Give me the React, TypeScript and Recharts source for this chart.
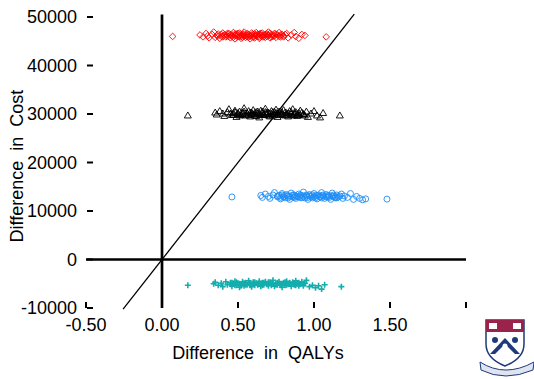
import { ScatterChart, Scatter, XAxis, YAxis, ReferenceLine, Label } from "recharts";

// incremental cost vs incremental QALY, one cloud per strategy
const redPts: [number, number][] = [
  [0.07, 46000], [0.25, 46300], [0.27, 45900], [0.29, 46600], [0.3, 46100], [0.31, 45700], [0.33, 46400],
  [0.34, 46900], [0.35, 45800], [0.36, 46200], [0.37, 46500], [0.38, 45600], [0.39, 46000], [0.4, 46700],
  [0.41, 46300], [0.42, 45900], [0.43, 46100], [0.44, 46600], [0.45, 45700], [0.45, 46400], [0.46, 46000],
  [0.47, 46800], [0.48, 46200], [0.48, 45500], [0.49, 46500], [0.5, 45900], [0.5, 46300], [0.51, 46700],
  [0.52, 46000], [0.52, 45600], [0.53, 46400], [0.54, 46100], [0.54, 46900], [0.55, 45800], [0.56, 46300],
  [0.56, 46600], [0.57, 45900], [0.58, 46200], [0.58, 45500], [0.59, 46700], [0.6, 46000], [0.6, 46400],
  [0.61, 45700], [0.62, 46300], [0.62, 46800], [0.63, 46000], [0.64, 46500], [0.64, 45600], [0.65, 46200],
  [0.66, 45900], [0.66, 46700], [0.67, 46300], [0.68, 45800], [0.69, 46500], [0.7, 46100], [0.7, 46900],
  [0.71, 45700], [0.72, 46400], [0.73, 46000], [0.74, 46600], [0.75, 45800], [0.76, 46300], [0.77, 46800],
  [0.78, 45900], [0.79, 46400], [0.8, 46100], [0.82, 46600], [0.83, 45700], [0.85, 46300], [0.87, 46800],
  [0.88, 46000], [0.9, 45600], [0.92, 46400], [0.94, 46200], [1.08, 45900],
];
const redCore: [number, number][] = [
  [0.37, 46100], [0.39, 46400], [0.4, 45900], [0.42, 46300], [0.43, 46600], [0.44, 46000], [0.46, 46300],
  [0.47, 45800], [0.48, 46500], [0.49, 46100], [0.5, 46600], [0.51, 46000], [0.52, 46300], [0.53, 45800],
  [0.54, 46500], [0.55, 46200], [0.56, 45900], [0.57, 46400], [0.58, 46000], [0.59, 46300], [0.6, 45800],
  [0.61, 46500], [0.62, 46100], [0.63, 46400], [0.64, 45900], [0.65, 46600], [0.66, 46200], [0.67, 45900],
  [0.68, 46400], [0.69, 46000], [0.7, 46300], [0.71, 46600], [0.72, 45900], [0.73, 46300], [0.74, 46100],
  [0.75, 46500], [0.77, 46000], [0.78, 46300], [0.8, 45900], [0.81, 46400],
];

const blackPts: [number, number][] = [
  [0.17, 29700], [0.35, 30300], [0.36, 29900], [0.38, 30600], [0.4, 30100], [0.41, 29600], [0.43, 30400],
  [0.44, 31000], [0.46, 29800], [0.47, 30200], [0.48, 30700], [0.49, 29400], [0.5, 30000], [0.51, 30500],
  [0.52, 29800], [0.53, 30300], [0.54, 31200], [0.55, 29700], [0.56, 30100], [0.57, 30600], [0.58, 29500],
  [0.59, 30300], [0.6, 29900], [0.6, 30800], [0.61, 30200], [0.62, 29600], [0.63, 30500], [0.64, 30000],
  [0.64, 29300], [0.65, 30700], [0.66, 30200], [0.67, 29800], [0.68, 30400], [0.68, 31100], [0.69, 29900],
  [0.7, 30300], [0.71, 29500], [0.72, 30600], [0.72, 30000], [0.73, 29700], [0.74, 30400], [0.75, 30900],
  [0.76, 30100], [0.76, 29400], [0.77, 30500], [0.78, 29900], [0.79, 30300], [0.8, 30800], [0.81, 29700],
  [0.82, 30200], [0.83, 29500], [0.84, 30600], [0.85, 30000], [0.86, 31000], [0.87, 29800], [0.88, 30400],
  [0.89, 29600], [0.9, 30200], [0.91, 30700], [0.93, 29900], [0.95, 30500], [0.96, 29400], [0.98, 30100],
  [1.0, 30600], [1.02, 29700], [1.04, 29300], [1.06, 30200], [1.17, 29700],
];
const blackCore: [number, number][] = [
  [0.45, 30100], [0.47, 29800], [0.48, 30400], [0.5, 30200], [0.51, 29700], [0.53, 30000], [0.54, 30500],
  [0.55, 30100], [0.57, 29800], [0.58, 30300], [0.59, 30000], [0.61, 29700], [0.62, 30400], [0.63, 30100],
  [0.65, 29800], [0.66, 30500], [0.67, 30000], [0.69, 30300], [0.7, 29700], [0.71, 30100], [0.73, 30400],
  [0.74, 29900], [0.75, 30200], [0.77, 29800], [0.78, 30500], [0.79, 30000], [0.81, 30300], [0.82, 29800],
  [0.83, 30100], [0.85, 30400], [0.86, 29700], [0.87, 30200], [0.89, 30000], [0.9, 29800], [0.92, 30300],
  [0.93, 30000], [0.94, 29700],
];

const bluePts: [number, number][] = [
  [0.46, 12900], [0.65, 13200], [0.66, 12800], [0.68, 13500], [0.7, 13000], [0.71, 12600], [0.73, 13300],
  [0.74, 13800], [0.76, 12900], [0.77, 13200], [0.78, 12500], [0.79, 13600], [0.8, 13000], [0.81, 12700],
  [0.82, 13400], [0.83, 13100], [0.84, 12400], [0.85, 13700], [0.86, 12900], [0.87, 13300], [0.88, 12600],
  [0.89, 13000], [0.9, 13500], [0.91, 12800], [0.92, 13200], [0.93, 13900], [0.94, 12700], [0.95, 13100],
  [0.96, 12400], [0.97, 13400], [0.98, 13000], [0.99, 12700], [1.0, 13600], [1.01, 13100], [1.02, 12500],
  [1.03, 13300], [1.04, 12900], [1.05, 13800], [1.06, 13100], [1.07, 12600], [1.08, 13400], [1.09, 12900],
  [1.1, 13200], [1.11, 12400], [1.12, 13700], [1.13, 13000], [1.14, 12700], [1.15, 13300], [1.16, 12900],
  [1.18, 13500], [1.19, 12600], [1.2, 13100], [1.22, 12800], [1.24, 13600], [1.26, 12400], [1.28, 13000],
  [1.3, 12600], [1.32, 12300], [1.34, 12500], [1.48, 12450],
];
const blueCore: [number, number][] = [
  [0.76, 13100], [0.78, 12800], [0.79, 13300], [0.8, 12900], [0.82, 13200], [0.83, 12700], [0.84, 13000],
  [0.86, 13300], [0.87, 12800], [0.88, 13100], [0.9, 12900], [0.91, 13300], [0.92, 12700], [0.93, 13000],
  [0.95, 13300], [0.96, 12800], [0.97, 13100], [0.99, 13300], [1.0, 12900], [1.01, 12700], [1.02, 13200],
  [1.04, 13000], [1.05, 12700], [1.06, 13300], [1.08, 12900], [1.09, 13200], [1.1, 12800], [1.12, 13100],
  [1.13, 13300], [1.14, 12900], [1.15, 12700], [1.17, 13100],
];

const tealPts: [number, number][] = [
  [0.17, -5300], [0.34, -5000], [0.35, -4700], [0.37, -5300], [0.39, -4900], [0.4, -5600], [0.42, -4600],
  [0.43, -5200], [0.45, -4800], [0.46, -5500], [0.47, -5000], [0.48, -4500], [0.49, -5300], [0.5, -4900],
  [0.51, -5700], [0.52, -5100], [0.53, -4600], [0.54, -5400], [0.55, -4800], [0.56, -5200], [0.57, -4400],
  [0.58, -5000], [0.59, -5600], [0.6, -4700], [0.61, -5300], [0.62, -4900], [0.63, -5100], [0.64, -4500],
  [0.65, -5500], [0.66, -4800], [0.67, -5200], [0.68, -4600], [0.69, -5000], [0.7, -5400], [0.71, -4700],
  [0.72, -5100], [0.73, -4300], [0.74, -5500], [0.75, -4900], [0.76, -5200], [0.77, -4600], [0.78, -5000],
  [0.79, -5700], [0.8, -4800], [0.81, -5300], [0.82, -4500], [0.83, -5100], [0.84, -4900], [0.85, -5500],
  [0.86, -4700], [0.87, -5200], [0.88, -4400], [0.89, -5000], [0.9, -5400], [0.92, -4600], [0.93, -5100],
  [0.95, -4300], [0.97, -5600], [0.99, -5300], [1.01, -5800], [1.03, -5400], [1.05, -6100], [1.07, -5200],
  [1.18, -5600],
];
const tealCore: [number, number][] = [
  [0.45, -5100], [0.46, -4800], [0.48, -5300], [0.49, -4700], [0.51, -5000], [0.52, -5400], [0.54, -4900],
  [0.55, -5200], [0.57, -4800], [0.58, -5300], [0.6, -5000], [0.61, -4700], [0.63, -5200], [0.64, -4900],
  [0.66, -5300], [0.67, -4800], [0.69, -5100], [0.7, -4700], [0.72, -5300], [0.73, -4900], [0.75, -5200],
  [0.76, -4800], [0.78, -5300], [0.79, -5000], [0.81, -4700], [0.82, -5200], [0.84, -4800], [0.85, -5100],
  [0.87, -4900], [0.88, -5300], [0.9, -4800], [0.91, -5100], [0.93, -5400], [0.94, -4900],
];

const xTicks = [-0.5, 0, 0.5, 1, 1.5, 2];
const yTicks = [-10000, 0, 10000, 20000, 30000, 40000, 50000];
const wtpLine = [
  { x: -0.256, y: -10250 },
  { x: 1.265, y: 50600 },
];

const FONT = "'Liberation Sans', Arial, sans-serif";
const toXY = (pts: [number, number][]) => pts.map(([x, y]) => ({ x, y }));

function Diamond({ cx, cy }: any) {
  return <path d={`M${cx},${cy - 3.3}L${cx + 3.3},${cy}L${cx},${cy + 3.3}L${cx - 3.3},${cy}Z`} fill="none" stroke="#ff0000" strokeWidth={0.9} />;
}
function Triangle({ cx, cy }: any) {
  return <path d={`M${cx},${cy - 3.5}L${cx + 3.5},${cy + 2.5}L${cx - 3.5},${cy + 2.5}Z`} fill="none" stroke="#000" strokeWidth={0.9} />;
}
function Ring({ cx, cy }: any) {
  return <circle cx={cx} cy={cy} r={3} fill="none" stroke="#1e8cf5" strokeWidth={0.9} />;
}
function Plus({ cx, cy }: any) {
  return (
    <path d={`M${cx - 3},${cy}H${cx + 3}M${cx},${cy - 3}V${cy + 3}`} stroke="#14adad" strokeWidth={1.6} />
  );
}

function YTick({ x, y, payload }: any) {
  return (
    <g>
      <line x1={x + 1} x2={x + 7} y1={y} y2={y} stroke="#000" strokeWidth={2} />
      <text x={x - 9} y={y} dy="0.35em" textAnchor="end" fontSize={18} fontFamily={FONT} fill="#000">
        {payload.value}
      </text>
    </g>
  );
}

function XTick({ x, y, payload }: any) {
  return (
    <g>
      <line x1={x} x2={x} y1={y} y2={y - 6} stroke="#000" strokeWidth={2} />
      {payload.value !== 2 && (
        <text x={x} y={y + 17} dy="0.35em" textAnchor="middle" fontSize={18} fontFamily={FONT} fill="#000">
          {payload.value.toFixed(2)}
        </text>
      )}
    </g>
  );
}

function PennShield() {
  return (
    <svg width={56} height={60} style={{ position: "absolute", left: 479, top: 318 }}>
      <path d="M7,2 H45 V26 C45,38 36,44 26,48 C16,44 7,38 7,26 Z" fill="#fff" stroke="#1f3a7a" strokeWidth={1.5} />
      <rect x={7} y={2} width={38} height={12} fill="#99234a" />
      <rect x={10} y={5} width={8} height={6} fill="#fff" />
      <rect x={34} y={5} width={8} height={6} fill="#fff" />
      <path d="M11,36 L26,20 L41,36 L36,36 L26,26 L16,36 Z" fill="#1f3a7a" />
      <circle cx={26} cy={28} r={2.5} fill="#fff" />
      <circle cx={16} cy={22} r={3} fill="#1f3a7a" />
      <circle cx={36} cy={22} r={3} fill="#1f3a7a" />
      <path d="M1,44 Q26,60 55,44 L54,52 Q26,64 2,52 Z" fill="#dfe4f0" stroke="#1f3a7a" strokeWidth={1} />
    </svg>
  );
}

export default function App() {
  return (
    <div style={{ position: "absolute", left: 0, top: 0, width: 534, height: 379, background: "#fff" }}>
      <ScatterChart width={534} height={379} margin={{ top: 17, right: 68, bottom: 0, left: 0 }}>
        <XAxis
          type="number"
          dataKey="x"
          domain={[-0.5, 2]}
          ticks={xTicks}
          interval={0}
          axisLine={false}
          tickLine={false}
          tickSize={0}
          tickMargin={0}
          tick={<XTick />}
          height={71}
        >
          <Label
            content={() => (
              <text x={258} y={353} dy="0.35em" textAnchor="middle" fontSize={18} fontFamily={FONT} fill="#000" style={{ whiteSpace: "pre" }}>
                Difference  in  QALYs
              </text>
            )}
          />
        </XAxis>
        <YAxis
          type="number"
          dataKey="y"
          domain={[-10000, 50000]}
          ticks={yTicks}
          interval={0}
          axisLine={false}
          tickLine={false}
          tickSize={0}
          tickMargin={0}
          tick={<YTick />}
          width={86}
        >
          <Label
            content={() => (
              <text
                x={17}
                y={166}
                dy="0.35em"
                textAnchor="middle"
                fontSize={18}
                fontFamily={FONT}
                fill="#000"
                style={{ whiteSpace: "pre" }}
                transform="rotate(-90 17 166)"
              >
                Difference  in  Cost
              </text>
            )}
          />
        </YAxis>
        <ReferenceLine
          segment={[{ x: -0.5, y: 0 }, { x: 2, y: 0 }]}
          stroke="#000"
          strokeWidth={2.5}
          ifOverflow="visible"
        />
        <ReferenceLine
          segment={[{ x: 0, y: -10000 }, { x: 0, y: 50500 }]}
          stroke="#000"
          strokeWidth={2.7}
          ifOverflow="visible"
        />
        <ReferenceLine segment={wtpLine} stroke="#000" strokeWidth={1.3} ifOverflow="visible" />
        <Scatter data={toXY(redPts)} shape={<Diamond />} isAnimationActive={false} />
        <Scatter data={toXY(redCore)} shape={<Diamond />} isAnimationActive={false} />
        <Scatter data={toXY(blackPts)} shape={<Triangle />} isAnimationActive={false} />
        <Scatter data={toXY(blackCore)} shape={<Triangle />} isAnimationActive={false} />
        <Scatter data={toXY(bluePts)} shape={<Ring />} isAnimationActive={false} />
        <Scatter data={toXY(blueCore)} shape={<Ring />} isAnimationActive={false} />
        <Scatter data={toXY(tealPts)} shape={<Plus />} isAnimationActive={false} />
        <Scatter data={toXY(tealCore)} shape={<Plus />} isAnimationActive={false} />
      </ScatterChart>
      <PennShield />
    </div>
  );
}
